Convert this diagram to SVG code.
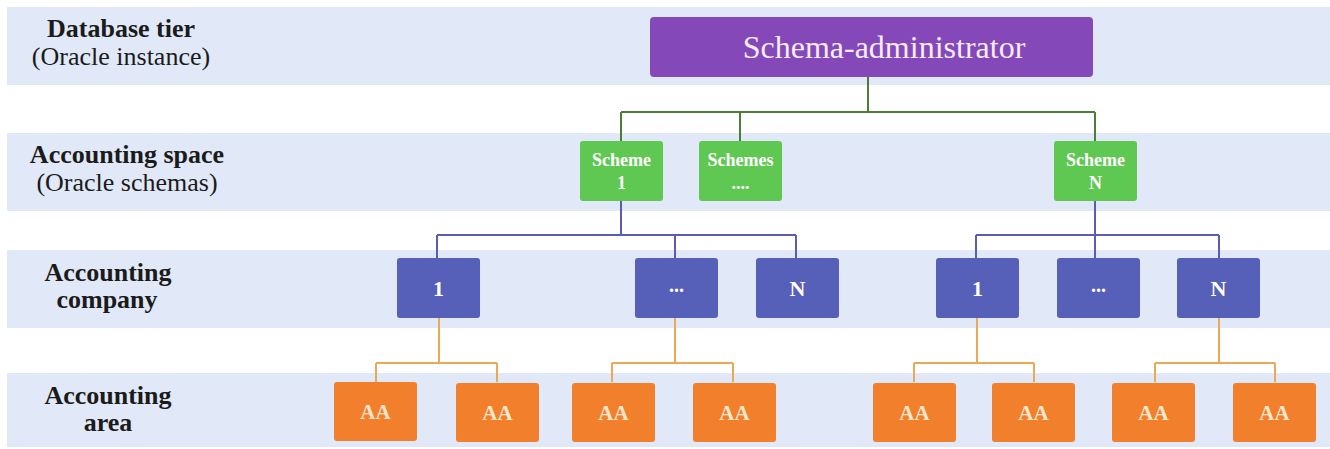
<svg xmlns="http://www.w3.org/2000/svg" width="1330" height="449" viewBox="0 0 1330 449">
<style>
.band{fill:#e1e8f7}
.f{font-family:"Liberation Serif","Times New Roman",Times,"DejaVu Serif",serif}
.lbl{fill:#1b1b1b;text-anchor:middle}
.b{font-weight:bold;font-size:26px}
.r{font-size:26px}
.admin{fill:#8548b9}
.sch{fill:#5fc852}
.co{fill:#5760b8}
.aa{fill:#f27f2b}
.nt{font-weight:bold;text-anchor:middle;fill:#fff}
.aat{fill:#fde7cc;font-size:21px}
.gl{stroke:#4d7d3d;stroke-width:2;fill:none}
.bl{stroke:#5b5db3;stroke-width:2;fill:none}
.ol{stroke:#eaa955;stroke-width:2;fill:none}
</style>
<rect width="1330" height="449" fill="#ffffff"/>
<g id="bands">
<rect class="band" x="7" y="7" width="1323" height="78"/>
<rect class="band" x="7" y="133" width="1323" height="78"/>
<rect class="band" x="7" y="250" width="1323" height="78"/>
<rect class="band" x="7" y="373" width="1323" height="74"/>
</g>
<g id="labels">
<text class="f lbl b" x="121" y="37">Database tier</text>
<text class="f lbl r" x="121" y="65">(Oracle instance)</text>
<text class="f lbl b" x="127" y="163">Accounting space</text>
<text class="f lbl r" x="127" y="191">(Oracle schemas)</text>
<text class="f lbl b" x="108" y="281">Accounting</text>
<text class="f lbl b" x="107" y="308">company</text>
<text class="f lbl b" x="108" y="404">Accounting</text>
<text class="f lbl b" x="108" y="431">area</text>
</g>
<g id="connectors">
<path class="gl" d="M868 77V112M621 112H1095M621 112V141M740 112V141M1095 112V141"/>
<path class="bl" d="M621 201V235M437 235H796M437 235V258M675 235V258M796 235V258"/>
<path class="bl" d="M1095 200V235M976 235H1219M976 235V258M1095 235V258M1219 235V258"/>
<path class="ol" d="M439 318V363M376 363H497M376 363V382M497 363V382"/>
<path class="ol" d="M675 318V363M612 363H733M612 363V382M733 363V382"/>
<path class="ol" d="M977 318V363M914 363H1034M914 363V382M1034 363V382"/>
<path class="ol" d="M1219 318V363M1155 363H1275M1155 363V382M1275 363V382"/>
</g>
<g id="admin">
<rect class="admin" x="650" y="17" width="443" height="60" rx="4"/>
<text class="f" x="884" y="58" font-size="32" fill="#f6ecfb" text-anchor="middle">Schema-administrator</text>
</g>
<g id="scheme1">
<rect class="sch" x="580" y="141" width="83" height="60" rx="3"/>
<text class="f nt" x="621.5" y="166" font-size="18">Scheme</text>
<text class="f nt" x="621.5" y="189" font-size="18">1</text>
</g>
<g id="schemes">
<rect class="sch" x="699" y="141" width="83" height="60" rx="3"/>
<text class="f nt" x="740.5" y="166" font-size="18">Schemes</text>
<text class="f nt" x="740.5" y="189" font-size="18">....</text>
</g>
<g id="schemeN">
<rect class="sch" x="1054" y="141" width="83" height="60" rx="3"/>
<text class="f nt" x="1095.5" y="166" font-size="18">Scheme</text>
<text class="f nt" x="1095.5" y="189" font-size="18">N</text>
</g>
<g id="co-1a"><rect class="co" x="397" y="258" width="83" height="60" rx="3"/><text class="f nt" x="438.5" y="296" font-size="22">1</text></g>
<g id="co-2a"><rect class="co" x="635" y="258" width="83" height="60" rx="3"/><text class="f nt" x="676.5" y="292" font-size="20">...</text></g>
<g id="co-3a"><rect class="co" x="756" y="258" width="83" height="60" rx="3"/><text class="f nt" x="797.5" y="296" font-size="22">N</text></g>
<g id="co-1b"><rect class="co" x="936" y="258" width="83" height="60" rx="3"/><text class="f nt" x="977.5" y="296" font-size="22">1</text></g>
<g id="co-2b"><rect class="co" x="1057" y="258" width="83" height="60" rx="3"/><text class="f nt" x="1098.5" y="292" font-size="20">...</text></g>
<g id="co-3b"><rect class="co" x="1177" y="258" width="83" height="60" rx="3"/><text class="f nt" x="1218.5" y="296" font-size="22">N</text></g>
<g id="aa1"><rect class="aa" x="334" y="382" width="83" height="59" rx="3"/><text class="f nt aat" x="375.5" y="419">AA</text></g>
<g id="aa2"><rect class="aa" x="456" y="383" width="83" height="59" rx="3"/><text class="f nt aat" x="497.5" y="420">AA</text></g>
<g id="aa3"><rect class="aa" x="572" y="383" width="83" height="59" rx="3"/><text class="f nt aat" x="613.5" y="420">AA</text></g>
<g id="aa4"><rect class="aa" x="693" y="383" width="83" height="59" rx="3"/><text class="f nt aat" x="734.5" y="420">AA</text></g>
<g id="aa5"><rect class="aa" x="873" y="383" width="83" height="59" rx="3"/><text class="f nt aat" x="914.5" y="420">AA</text></g>
<g id="aa6"><rect class="aa" x="992" y="383" width="83" height="59" rx="3"/><text class="f nt aat" x="1033.5" y="420">AA</text></g>
<g id="aa7"><rect class="aa" x="1112" y="383" width="83" height="59" rx="3"/><text class="f nt aat" x="1153.5" y="420">AA</text></g>
<g id="aa8"><rect class="aa" x="1233" y="383" width="83" height="59" rx="3"/><text class="f nt aat" x="1274.5" y="420">AA</text></g>
</svg>
